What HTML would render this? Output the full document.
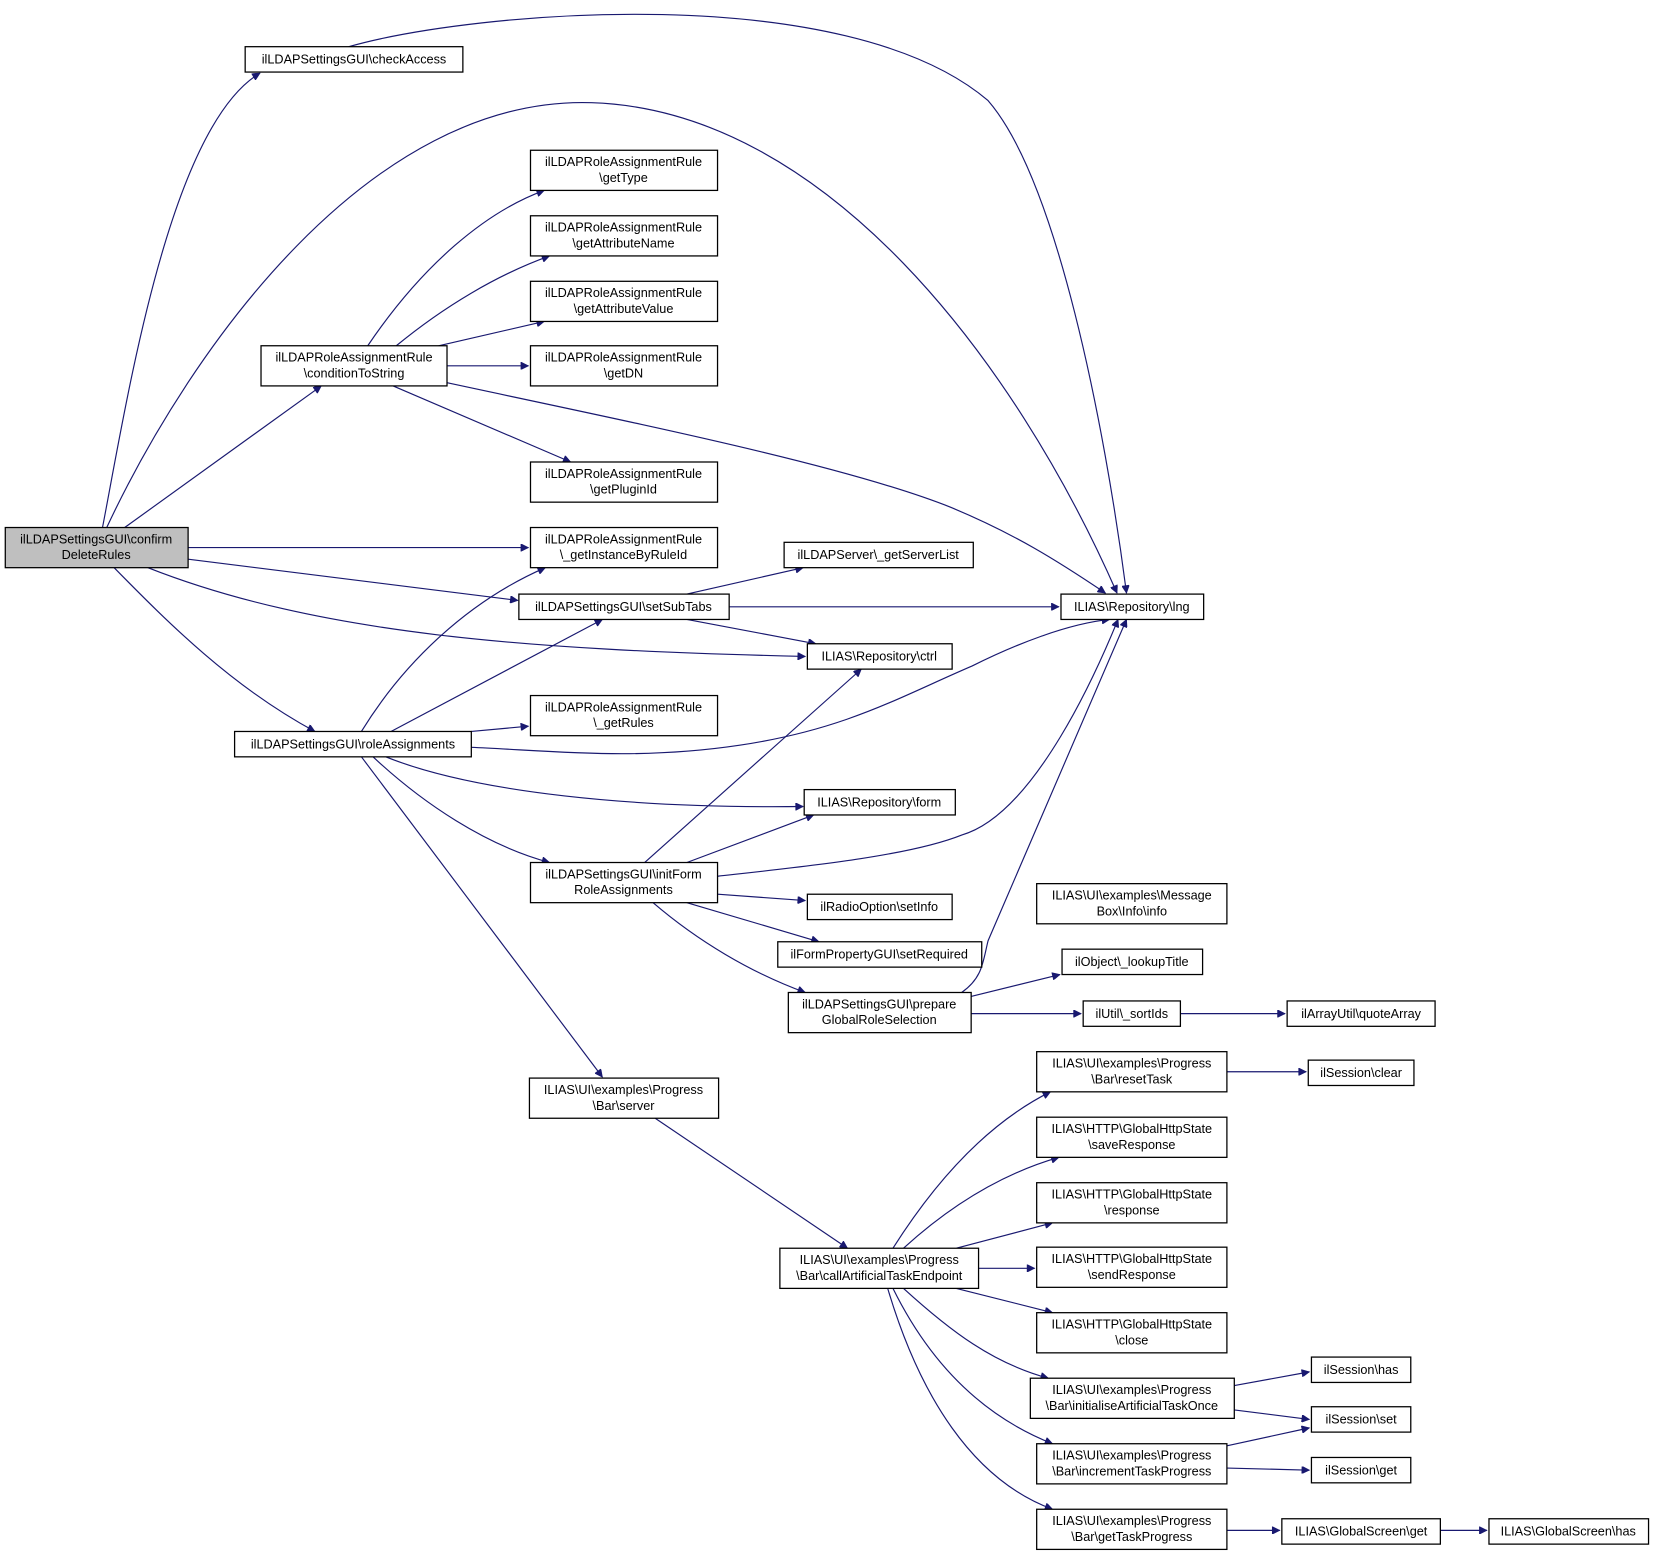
<!DOCTYPE html>
<html><head><meta charset="utf-8"><style>
html,body{margin:0;padding:0;background:#fff;}
svg{display:block;}
text{font-family:"Liberation Sans",Arial,sans-serif;font-size:12px;fill:#000;text-anchor:middle;}
.n{fill:#fff;stroke:#000;stroke-width:1.2;}
.e{fill:none;stroke:#191970;stroke-width:1.1;}
</style></head><body>
<svg width="1657" height="1557" viewBox="0 0 1568 1473" xmlns="http://www.w3.org/2000/svg">
<defs><marker id="a" viewBox="0 0 10 10" refX="10" refY="5" markerWidth="10" markerHeight="7" markerUnits="userSpaceOnUse" orient="auto"><path d="M0,0 L10,5 L0,10 z" fill="#191970" stroke="#191970"/></marker></defs>
<g class="e" marker-end="url(#a)">
<path d="M97,499 C120,380 160,120 246,69"/>
<path d="M101,499 C180,330 350,90 560,97 C780,104 960,340 1057,561"/>
<path d="M330,44 C450,10 800,-20 935,95 C1000,170 1045,400 1066,561"/>
<path d="M118,499 L304,365"/>
<path d="M178,518 L500,518"/>
<path d="M178,529 L490,568"/>
<path d="M140,537 C300,600 500,615 762,621"/>
<path d="M108,537 C160,590 220,650 298,692"/>
<path d="M348,327 C400,250 460,200 515,180"/>
<path d="M375,327 C420,290 470,260 520,242"/>
<path d="M415,327 L515,304"/>
<path d="M423,346 L500,346"/>
<path d="M372,365 L540,437"/>
<path d="M423,362 C600,400 800,440 900,480 C960,505 1000,530 1046,561"/>
<path d="M650,562 L760,537"/>
<path d="M690,574 L1002,574"/>
<path d="M650,586 L772,609"/>
<path d="M342,692 C380,630 440,570 516,537"/>
<path d="M370,692 L570,586"/>
<path d="M446,692 L500,687"/>
<path d="M446,707 C520,710 600,720 700,705 C800,690 850,660 920,630 C960,610 1010,590 1050,586"/>
<path d="M365,716 C450,750 600,765 760,763"/>
<path d="M353,716 C400,760 460,800 520,816"/>
<path d="M342,716 L570,1019"/>
<path d="M610,816 L815,633"/>
<path d="M650,816 L770,771"/>
<path d="M679,829 C760,820 860,810 910,790 C980,770 1040,630 1058,586"/>
<path d="M679,846 L762,852"/>
<path d="M650,854 L775,891"/>
<path d="M618,854 C660,890 710,920 762,939"/>
<path d="M910,939 C930,925 930,910 935,890 L1066,586"/>
<path d="M918,943 L1003,922"/>
<path d="M918,959 L1023,959"/>
<path d="M1117,959 L1216,959"/>
<path d="M620,1058 L802,1181"/>
<path d="M845,1181 C890,1110 940,1060 994,1033"/>
<path d="M855,1181 C900,1140 950,1110 1002,1095"/>
<path d="M905,1181 L996,1157"/>
<path d="M926,1200 L979,1200"/>
<path d="M905,1219 L996,1242"/>
<path d="M855,1219 C900,1260 940,1290 992,1304"/>
<path d="M845,1219 C880,1290 930,1340 996,1366"/>
<path d="M840,1219 C870,1320 920,1400 996,1428"/>
<path d="M1161,1014 L1236,1014"/>
<path d="M1168,1311 L1239,1298"/>
<path d="M1168,1334 L1239,1343"/>
<path d="M1161,1368 L1239,1351"/>
<path d="M1161,1389 L1239,1391"/>
<path d="M1161,1448 L1211,1448"/>
<path d="M1363,1448 L1407,1448"/>
</g>
<g>
<rect class="n" x="232" y="44" width="206" height="24"/><text x="335" y="60">ilLDAPSettingsGUI\checkAccess</text>
<rect class="n" x="5" y="499" width="173" height="38" style="fill:#bfbfbf"/><text x="91" y="514">ilLDAPSettingsGUI\confirm</text><text x="91" y="529">DeleteRules</text>
<rect class="n" x="502" y="142" width="177" height="38"/><text x="590" y="157">ilLDAPRoleAssignmentRule</text><text x="590" y="172">\getType</text>
<rect class="n" x="502" y="204" width="177" height="38"/><text x="590" y="219">ilLDAPRoleAssignmentRule</text><text x="590" y="234">\getAttributeName</text>
<rect class="n" x="502" y="266" width="177" height="38"/><text x="590" y="281">ilLDAPRoleAssignmentRule</text><text x="590" y="296">\getAttributeValue</text>
<rect class="n" x="502" y="327" width="177" height="38"/><text x="590" y="342">ilLDAPRoleAssignmentRule</text><text x="590" y="357">\getDN</text>
<rect class="n" x="247" y="327" width="176" height="38"/><text x="335" y="342">ilLDAPRoleAssignmentRule</text><text x="335" y="357">\conditionToString</text>
<rect class="n" x="502" y="437" width="177" height="38"/><text x="590" y="452">ilLDAPRoleAssignmentRule</text><text x="590" y="467">\getPluginId</text>
<rect class="n" x="502" y="499" width="177" height="38"/><text x="590" y="514">ilLDAPRoleAssignmentRule</text><text x="590" y="529">\_getInstanceByRuleId</text>
<rect class="n" x="742" y="513" width="179" height="24"/><text x="831" y="529">ilLDAPServer\_getServerList</text>
<rect class="n" x="491" y="562" width="199" height="24"/><text x="590" y="578">ilLDAPSettingsGUI\setSubTabs</text>
<rect class="n" x="1004" y="562" width="135" height="24"/><text x="1071" y="578">ILIAS\Repository\lng</text>
<rect class="n" x="764" y="609" width="137" height="24"/><text x="832" y="625">ILIAS\Repository\ctrl</text>
<rect class="n" x="502" y="658" width="177" height="38"/><text x="590" y="673">ilLDAPRoleAssignmentRule</text><text x="590" y="688">\_getRules</text>
<rect class="n" x="222" y="692" width="224" height="24"/><text x="334" y="708">ilLDAPSettingsGUI\roleAssignments</text>
<rect class="n" x="761" y="747" width="143" height="24"/><text x="832" y="763">ILIAS\Repository\form</text>
<rect class="n" x="502" y="816" width="177" height="38"/><text x="590" y="831">ilLDAPSettingsGUI\initForm</text><text x="590" y="846">RoleAssignments</text>
<rect class="n" x="764" y="846" width="137" height="24"/><text x="832" y="862">ilRadioOption\setInfo</text>
<rect class="n" x="981" y="836" width="180" height="38"/><text x="1071" y="851">ILIAS\UI\examples\Message</text><text x="1071" y="866">Box\Info\info</text>
<rect class="n" x="736" y="891" width="193" height="24"/><text x="832" y="907">ilFormPropertyGUI\setRequired</text>
<rect class="n" x="1005" y="898" width="133" height="24"/><text x="1071" y="914">ilObject\_lookupTitle</text>
<rect class="n" x="746" y="939" width="173" height="38"/><text x="832" y="954">ilLDAPSettingsGUI\prepare</text><text x="832" y="969">GlobalRoleSelection</text>
<rect class="n" x="1025" y="947" width="92" height="24"/><text x="1071" y="963">ilUtil\_sortIds</text>
<rect class="n" x="1218" y="947" width="140" height="24"/><text x="1288" y="963">ilArrayUtil\quoteArray</text>
<rect class="n" x="501" y="1020" width="179" height="38"/><text x="590" y="1035">ILIAS\UI\examples\Progress</text><text x="590" y="1050">\Bar\server</text>
<rect class="n" x="981" y="995" width="180" height="38"/><text x="1071" y="1010">ILIAS\UI\examples\Progress</text><text x="1071" y="1025">\Bar\resetTask</text>
<rect class="n" x="1238" y="1003" width="100" height="24"/><text x="1288" y="1019">ilSession\clear</text>
<rect class="n" x="981" y="1057" width="180" height="38"/><text x="1071" y="1072">ILIAS\HTTP\GlobalHttpState</text><text x="1071" y="1087">\saveResponse</text>
<rect class="n" x="981" y="1119" width="180" height="38"/><text x="1071" y="1134">ILIAS\HTTP\GlobalHttpState</text><text x="1071" y="1149">\response</text>
<rect class="n" x="981" y="1180" width="180" height="38"/><text x="1071" y="1195">ILIAS\HTTP\GlobalHttpState</text><text x="1071" y="1210">\sendResponse</text>
<rect class="n" x="738" y="1181" width="188" height="38"/><text x="832" y="1196">ILIAS\UI\examples\Progress</text><text x="832" y="1211">\Bar\callArtificialTaskEndpoint</text>
<rect class="n" x="981" y="1242" width="180" height="38"/><text x="1071" y="1257">ILIAS\HTTP\GlobalHttpState</text><text x="1071" y="1272">\close</text>
<rect class="n" x="1241" y="1284" width="94" height="24"/><text x="1288" y="1300">ilSession\has</text>
<rect class="n" x="975" y="1304" width="193" height="38"/><text x="1071" y="1319">ILIAS\UI\examples\Progress</text><text x="1071" y="1334">\Bar\initialiseArtificialTaskOnce</text>
<rect class="n" x="1241" y="1331" width="94" height="24"/><text x="1288" y="1347">ilSession\set</text>
<rect class="n" x="981" y="1366" width="180" height="38"/><text x="1071" y="1381">ILIAS\UI\examples\Progress</text><text x="1071" y="1396">\Bar\incrementTaskProgress</text>
<rect class="n" x="1241" y="1379" width="94" height="24"/><text x="1288" y="1395">ilSession\get</text>
<rect class="n" x="981" y="1428" width="180" height="38"/><text x="1071" y="1443">ILIAS\UI\examples\Progress</text><text x="1071" y="1458">\Bar\getTaskProgress</text>
<rect class="n" x="1213" y="1437" width="150" height="24"/><text x="1288" y="1453">ILIAS\GlobalScreen\get</text>
<rect class="n" x="1409" y="1437" width="151" height="24"/><text x="1484" y="1453">ILIAS\GlobalScreen\has</text>
</g>
</svg>
</body></html>
